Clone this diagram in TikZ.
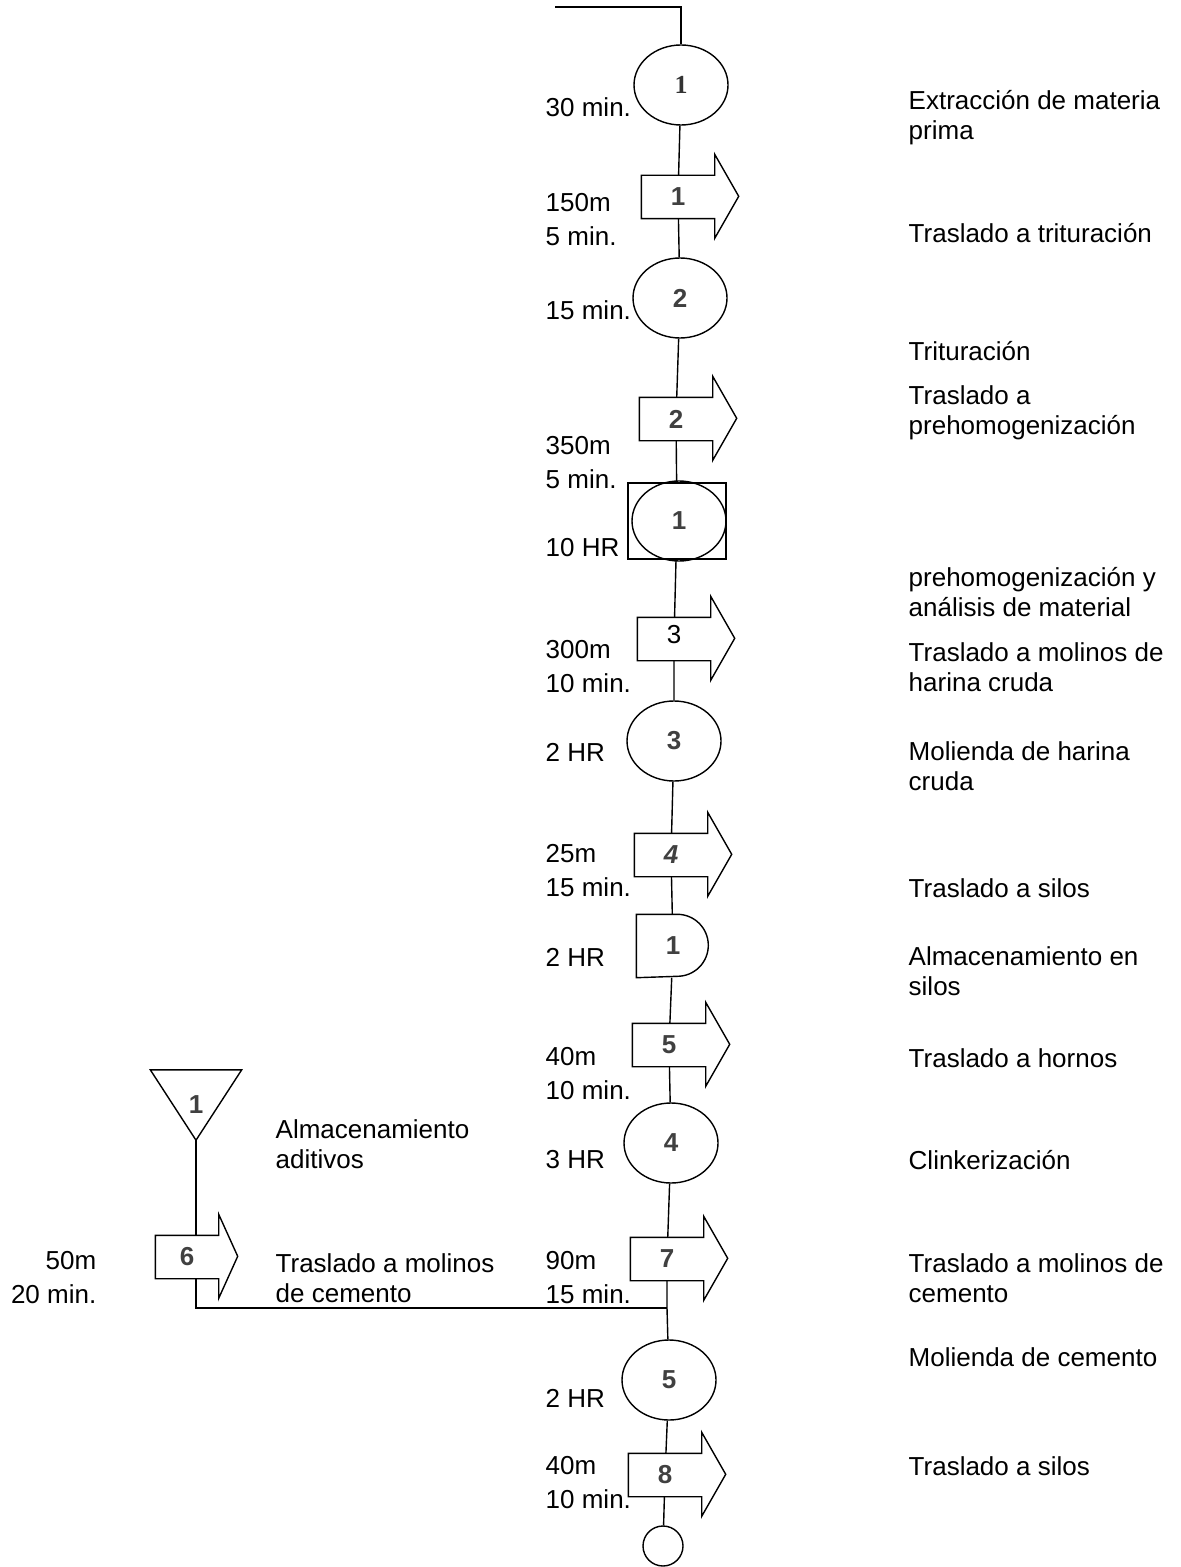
\documentclass[tikz,border=0pt]{standalone}
\usepackage{fontspec}
\setmainfont{Liberation Sans}
\newfontfamily\timesfont{Liberation Serif}
\usepackage{xcolor}
\usetikzlibrary{shapes.geometric}

\definecolor{numgray}{HTML}{404040}

\begin{document}
\begin{tikzpicture}[
    x=0.5pt, y=-0.5pt, % pixel units, y going down
    line width=0.7pt,
    font=\fontsize{13}{15}\selectfont,
    opera/.style={
        ellipse,
        draw,
        minimum width=47pt,
        minimum height=40pt,
        inner sep=0pt,
        text=numgray,
        font=\fontsize{13}{15}\selectfont\bfseries
    },
    transp/.style={
        rectangle,
        minimum width=36pt,
        minimum height=21pt,
        inner sep=0pt,
        text=numgray,
        font=\fontsize{13}{15}\selectfont\bfseries
    },
    demora/.style={
        rectangle,
        minimum width=36pt,
        minimum height=31pt,
        inner sep=0pt,
        text=numgray,
        font=\fontsize{13}{15}\selectfont\bfseries
    },
    almacen/.style={
        rectangle,
        minimum width=45pt,
        minimum height=34.5pt,
        inner sep=0pt,
        text=numgray,
        font=\fontsize{13}{15}\selectfont\bfseries
    },
    izq/.style={
        anchor=west,
        align=left,
        inner sep=0pt,
        font=\fontsize{13}{17}\selectfont
    },
    der/.style={
        anchor=west,
        align=left,
        inner sep=0pt
    }
]

    \useasboundingbox (0,0) rectangle (1180,1567);

    % --- Main line ---
    \node [opera, font=\timesfont\fontsize{13}{15}\selectfont\bfseries, text=black!80] (op1) at (681,85) {1};
    \node [transp] (t1) at (678,197) {1};
    \node [opera] (op2) at (680,298) {2};
    \node [transp] (t2) at (676,419) {2};
    \node [rectangle, draw, minimum width=49pt, minimum height=38pt, inner sep=0pt] (ci) at (677,521) {};
    \node [opera] (ci1) at (679,521) {1};
    \node [transp, font=\fontsize{13}{15}\selectfont, text=black] (t3) at (674,639) {\raisebox{5pt}{3}};
    \node [opera] (op3) at (674,741) {3};
    \node [transp, font=\fontsize{13}{15}\selectfont\bfseries\itshape] (t4) at (671,855) {4};
    \node [demora] (dem) at (673,946) {1};
    \node [transp] (t5) at (669,1045) {5};
    \node [opera] (op4) at (671,1143) {4};
    \node [transp] (t7) at (667,1259) {7};
    \coordinate (union) at (667,1308);
    \node [opera] (op5) at (669,1380) {5};
    \node [transp] (t8) at (665,1475) {8};
    \node [circle, draw, minimum size=20pt, inner sep=0pt] (fin) at (663,1546) {};

    % --- Side line (additives) ---
    \node [almacen] (alm) at (196,1105) {1};
    \node [transp, minimum width=31pt] (t6) at (187,1257) {6};

    % --- Outlines ---
    \foreach \t in {t1,t2,t3,t4,t5,t7,t8}
        \draw (\t.north west) -- (\t.north east) -- ++(0,-21) -- ++(24,42)
              -- ++(-24,42) -- (\t.south east) -- (\t.south west) -- cycle;
    \draw (t6.north west) -- (t6.north east) -- ++(0,-21) -- ++(19,42)
          -- ++(-19,42) -- (t6.south east) -- (t6.south west) -- cycle;
    \draw (dem.north west) -- ++(41,0) arc[start angle=90, end angle=-90, radius=15.5pt]
          -- (dem.south west) -- cycle;
    \draw (alm.north west) -- (alm.north east) -- (alm.south) -- cycle;

    % --- Connections ---
    \coordinate (inicio) at (555,7);
    \draw (inicio) -| (op1);
    \draw (op1) -- (t1) -- (op2) -- (t2) -- (ci) -- (t3) -- (op3) -- (t4) -- (dem)
          -- (t5) -- (op4) -- (t7) -- (union) -- (op5) -- (t8) -- (fin);
    \draw (alm.south) -- (alm.south |- t6.north);
    \draw (alm.south |- t6.south) |- (union);

    % --- Times and distances ---
    \node [izq] (l1) at (545,107) {30 min.};
    \node [izq] (l2) at (545,220) {150m\\5 min.};
    \node [izq] (l3) at (545,310) {15 min.};
    \node [izq] (l4) at (545,463) {350m\\5 min.};
    \node [izq] (l5) at (545,548) {10 HR};
    \node [izq] (l6) at (545,667) {300m\\10 min.};
    \node [izq] (l7) at (545,752) {2 HR};
    \node [izq] (l8) at (545,871) {25m\\15 min.};
    \node [izq] (l9) at (545,957) {2 HR};
    \node [izq] (l10) at (545,1074) {40m\\10 min.};
    \node [izq] (l11) at (545,1160) {3 HR};
    \node [izq] (l12) at (545,1278) {90m\\15 min.};
    \node [izq] (l13) at (545,1398) {2 HR};
    \node [izq] (l14) at (545,1483) {40m\\10 min.};
    \node [izq, anchor=east, align=right] (l15) at (97,1278) {50m\\20 min.};

    % --- Descriptions ---
    \node [der] (d1) at (908,118) {Extracción de materia\\prima};
    \node [der] (d2) at (908,233) {Traslado a trituración};
    \node [der] (d3) at (908,351) {Trituración};
    \node [der] (d4) at (908,413) {Traslado a\\prehomogenización};
    \node [der] (d5) at (908,592) {prehomogenización y\\análisis de material};
    \node [der] (d6) at (908,667) {Traslado a molinos de\\harina cruda};
    \node [der] (d7) at (908,766) {Molienda de harina\\cruda};
    \node [der] (d8) at (908,888) {Traslado a silos};
    \node [der] (d9) at (908,971) {Almacenamiento en\\silos};
    \node [der] (d10) at (908,1058) {Traslado a hornos};
    \node [der] (d11) at (908,1160) {Clinkerización};
    \node [der] (d12) at (908,1278) {Traslado a molinos de\\cemento};
    \node [der] (d13) at (908,1357) {Molienda de cemento};
    \node [der] (d14) at (908,1466) {Traslado a silos};
    \node [der] (d15) at (275,1144) {Almacenamiento\\aditivos};
    \node [der] (d16) at (275,1278) {Traslado a molinos\\de cemento};

\end{tikzpicture}
\end{document}
